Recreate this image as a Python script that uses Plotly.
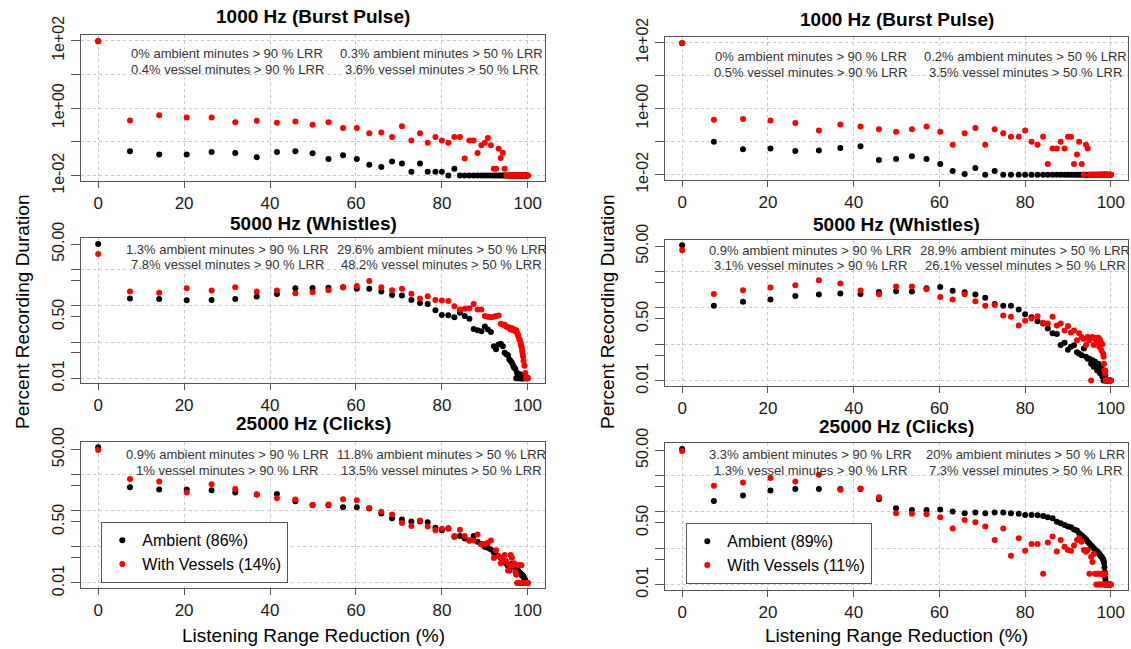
import plotly.graph_objects as go

# ---------------- data ----------------
LRR = [0, 7.4, 14.2, 20.6, 26.4, 31.9, 36.9, 41.6, 45.9, 49.9,
       53.6, 57.0, 60.2, 63.1, 65.9, 68.4, 70.7, 72.9, 74.9, 76.7,
       78.5, 80.0, 81.5, 82.9, 84.2, 85.3, 86.4, 87.4, 88.3, 89.2,
       90.0, 90.7, 91.4, 92.1, 92.6, 93.2, 93.7, 94.2, 94.6, 95.0,
       95.4, 95.7, 96.0, 96.3, 96.6, 96.8, 97.1, 97.3, 97.5, 97.7,
       97.8, 98.0, 98.2, 98.3, 98.4, 98.5, 98.6, 98.7, 98.8, 98.9,
       99.0, 99.2, 99.4, 99.6, 99.8, 100.0]

titles = ["1000 Hz (Burst Pulse)", "5000 Hz (Whistles)", "25000 Hz (Clicks)"]

# Left column
amb_bp_L = [96, 0.053, 0.042, 0.042, 0.050, 0.047, 0.035, 0.050, 0.053, 0.046,
            0.031, 0.040, 0.031, 0.021, 0.018, 0.026, 0.023, 0.013, 0.023, 0.013,
            0.013, 0.013, 0.01, 0.016, 0.01, 0.01, 0.01, 0.01, 0.01, 0.01,
            0.01, 0.01, 0.01, 0.01, 0.01, 0.01, 0.01, 0.01, 0.01, 0.01,
            0.01, 0.01, 0.01, 0.01, 0.01, 0.01, 0.01, 0.01, 0.01, 0.01,
            0.01, 0.01, 0.01, 0.01, 0.01, 0.01, 0.01, 0.01, 0.01, 0.01,
            0.01, 0.01, 0.01, 0.01, 0.01, 0.01]
ves_bp_L = [96, 0.43, 0.62, 0.53, 0.53, 0.38, 0.42, 0.37, 0.40, 0.32,
            0.38, 0.26, 0.26, 0.18, 0.19, 0.14, 0.29, 0.11, 0.18, 0.095,
            0.14, 0.11, 0.095, 0.14, 0.14, 0.032, 0.11, 0.11, 0.047, 0.079,
            0.095, 0.13, 0.079, 0.016, 0.016, 0.063, 0.033, 0.048, 0.016, 0.01,
            0.01, 0.01, 0.01, 0.01, 0.01, 0.01, 0.01, 0.01, 0.01, 0.01,
            0.01, 0.01, 0.01, 0.01, 0.01, 0.01, 0.01, 0.01, 0.01, 0.01,
            0.01, 0.01, 0.01, 0.01, 0.01, 0.01]
amb_wh_L = [51, 1.58, 1.55, 1.42, 1.45, 1.55, 1.79, 2.12, 3.03, 3.10,
            3.16, 3.23, 2.97, 2.97, 2.46, 1.99, 1.91, 1.45, 1.20, 1.12,
            0.75, 0.56, 0.55, 0.48, 0.64, 0.52, 0.44, 0.23, 0.21, 0.20,
            0.27, 0.22, 0.19, 0.077, 0.063, 0.085, 0.09, 0.077, 0.051, 0.046,
            0.043, 0.033, 0.030, 0.027, 0.022, 0.020, 0.018, 0.01, 0.014, 0.013,
            0.01, 0.01, 0.013, 0.01, 0.01, 0.01, 0.01, 0.01, 0.01, 0.01,
            0.01, 0.01, 0.01, 0.01, 0.01, 0.01]
ves_wh_L = [27, 2.46, 2.3, 3.03, 2.62, 3.23, 2.46, 2.62, 2.21, 2.35,
            2.7, 3.23, 3.51, 4.82, 3.23, 2.7, 2.97, 2.16, 1.58, 1.83,
            1.45, 1.39, 1.36, 0.97, 0.79, 0.83, 0.86, 1.12, 0.79, 0.79,
            0.52, 0.50, 0.48, 0.50, 0.52, 0.54, 0.32, 0.30, 0.30, 0.27,
            0.25, 0.25, 0.22, 0.24, 0.21, 0.22, 0.20, 0.21, 0.18, 0.16,
            0.146, 0.12, 0.11, 0.095, 0.085, 0.077, 0.068, 0.056, 0.047, 0.04,
            0.03, 0.022, 0.014, 0.01, 0.01, 0.01]
amb_cl_L = [58, 4.5, 3.9, 3.9, 3.73, 3.21, 2.83, 2.95, 1.85, 1.46,
            1.44, 1.26, 1.26, 1.16, 0.84, 0.62, 0.58, 0.51, 0.51, 0.48,
            0.34, 0.29, 0.33, 0.19, 0.20, 0.17, 0.15, 0.20, 0.14, 0.12,
            0.10, 0.095, 0.085, 0.07, 0.062, 0.055, 0.05, 0.042, 0.038, 0.034,
            0.03, 0.022, 0.03, 0.034, 0.03, 0.028, 0.026, 0.025, 0.023, 0.022,
            0.021, 0.02, 0.019, 0.018, 0.018, 0.017, 0.017, 0.016, 0.016, 0.015,
            0.015, 0.013, 0.012, 0.01, 0.01, 0.01]
ves_cl_L = [49, 7.7, 6.5, 3.21, 5.5, 4.06, 2.83, 2.24, 2.06, 1.46,
            1.49, 2.1, 1.97, 1.2, 0.95, 0.79, 0.46, 0.38, 0.54, 0.37,
            0.29, 0.32, 0.32, 0.20, 0.30, 0.20, 0.15, 0.15, 0.22, 0.116,
            0.12, 0.13, 0.15, 0.049, 0.081, 0.055, 0.035, 0.044, 0.06, 0.04,
            0.022, 0.031, 0.06, 0.05, 0.031, 0.035, 0.02, 0.017, 0.01, 0.031,
            0.01, 0.031, 0.01, 0.031, 0.01, 0.031, 0.01, 0.01, 0.01, 0.01,
            0.01, 0.01, 0.01, 0.01, 0.01, 0.01]

# Right column
amb_bp_R = [96, 0.10, 0.059, 0.062, 0.052, 0.054, 0.064, 0.073, 0.028, 0.030,
            0.036, 0.030, 0.021, 0.013, 0.0105, 0.016, 0.01, 0.013, 0.01, 0.01,
            0.01, 0.01, 0.01, 0.01, 0.01, 0.01, 0.01, 0.01, 0.01, 0.01,
            0.01, 0.01, 0.01, 0.01, 0.01, 0.01, 0.01, 0.01, 0.01, 0.01,
            0.01, 0.01, 0.01, 0.01, 0.01, 0.01, 0.01, 0.01, 0.01, 0.01,
            0.01, 0.01, 0.01, 0.01, 0.01, 0.01, 0.01, 0.01, 0.01, 0.01,
            0.01, 0.01, 0.01, 0.01, 0.01, 0.01]
ves_bp_R = [98, 0.46, 0.49, 0.44, 0.37, 0.22, 0.33, 0.29, 0.24, 0.20,
            0.24, 0.29, 0.20, 0.081, 0.18, 0.26, 0.081, 0.24, 0.18, 0.14,
            0.14, 0.22, 0.10, 0.081, 0.14, 0.021, 0.062, 0.062, 0.10, 0.062,
            0.14, 0.14, 0.021, 0.041, 0.10, 0.021, 0.01, 0.081, 0.062, 0.01,
            0.01, 0.01, 0.01, 0.01, 0.01, 0.01, 0.01, 0.01, 0.01, 0.01,
            0.01, 0.01, 0.01, 0.01, 0.01, 0.01, 0.01, 0.01, 0.01, 0.01,
            0.01, 0.01, 0.01, 0.01, 0.01, 0.01]
amb_wh_R = [53, 1.14, 1.47, 1.70, 2.14, 2.33, 2.49, 2.43, 2.76, 2.88,
            2.82, 3.48, 3.79, 2.95, 2.7, 2.33, 1.89, 1.29, 1.14, 1.14,
            0.9, 0.67, 0.55, 0.43, 0.37, 0.27, 0.20, 0.19, 0.096, 0.11,
            0.07, 0.085, 0.094, 0.06, 0.055, 0.05, 0.076, 0.045, 0.04, 0.04,
            0.029, 0.036, 0.024, 0.033, 0.028, 0.019, 0.029, 0.022, 0.016, 0.02,
            0.024, 0.013, 0.014, 0.01, 0.012, 0.014, 0.014, 0.014, 0.01, 0.01,
            0.01, 0.01, 0.01, 0.01, 0.01, 0.01]
ves_wh_R = [38.8, 2.43, 3.07, 3.64, 4.22, 5.79, 4.69, 3.0, 2.38, 3.87,
            3.87, 3.25, 2.01, 1.70, 2.38, 1.53, 1.14, 1.2, 0.62, 0.57,
            0.33, 0.44, 0.51, 0.59, 0.39, 0.37, 0.57, 0.33, 0.37, 0.24,
            0.32, 0.21, 0.24, 0.128, 0.2, 0.158, 0.14, 0.096, 0.158, 0.128,
            0.01, 0.158, 0.096, 0.14, 0.15, 0.11, 0.15, 0.085, 0.13, 0.11,
            0.068, 0.1, 0.055, 0.045, 0.029, 0.019, 0.016, 0.019, 0.01, 0.01,
            0.01, 0.01, 0.01, 0.01, 0.01, 0.01]
amb_cl_R = [54, 2.02, 2.84, 3.91, 4.26, 4.26, 4.26, 4.26, 2.25, 1.27,
            1.14, 1.14, 1.16, 1.03, 0.92, 0.96, 0.92, 0.96, 0.96, 0.92,
            0.89, 0.83, 0.83, 0.81, 0.78, 0.72, 0.67, 0.54, 0.49, 0.44,
            0.40, 0.38, 0.33, 0.31, 0.26, 0.23, 0.20, 0.176, 0.15, 0.136,
            0.12, 0.11, 0.10, 0.093, 0.085, 0.081, 0.075, 0.069, 0.064, 0.06,
            0.058, 0.055, 0.05, 0.046, 0.04, 0.03, 0.022, 0.015, 0.012, 0.01,
            0.01, 0.01, 0.01, 0.01, 0.01, 0.01]
ves_cl_R = [48, 5.26, 6.5, 8.6, 6.9, 10.6, 4.07, 4.44, 2.56, 0.92,
            0.89, 0.87, 0.72, 0.35, 0.6, 0.52, 0.40, 0.17, 0.35, 0.062,
            0.19, 0.085, 0.13, 0.13, 0.02, 0.145, 0.21, 0.082, 0.17, 0.11,
            0.089, 0.085, 0.12, 0.17, 0.19, 0.15, 0.089, 0.08, 0.089, 0.02,
            0.058, 0.042, 0.07, 0.02, 0.01, 0.02, 0.01, 0.02, 0.01, 0.02,
            0.01, 0.02, 0.01, 0.02, 0.01, 0.02, 0.01, 0.02, 0.01, 0.01,
            0.01, 0.01, 0.01, 0.01, 0.01, 0.01]

stats_L = [
    ["0% ambient minutes > 90 % LRR", "0.4% vessel minutes > 90 % LRR",
     "0.3% ambient minutes > 50 % LRR", "3.6% vessel minutes > 50 % LRR"],
    ["1.3% ambient minutes > 90 % LRR", "7.8% vessel minutes > 90 % LRR",
     "29.6% ambient minutes > 50 % LRR", "48.2% vessel minutes > 50 % LRR"],
    ["0.9% ambient minutes > 90 % LRR", "1% vessel minutes > 90 % LRR",
     "11.8% ambient minutes > 50 % LRR", "13.5% vessel minutes > 50 % LRR"],
]
stats_R = [
    ["0% ambient minutes > 90 % LRR", "0.5% vessel minutes > 90 % LRR",
     "0.2% ambient minutes > 50 % LRR", "3.5% vessel minutes > 50 % LRR"],
    ["0.9% ambient minutes > 90 % LRR", "3.1% vessel minutes > 90 % LRR",
     "28.9% ambient minutes > 50 % LRR", "26.1% vessel minutes > 50 % LRR"],
    ["3.3% ambient minutes > 90 % LRR", "1.3% vessel minutes > 90 % LRR",
     "20% ambient minutes > 50 % LRR", "7.3% vessel minutes > 50 % LRR"],
]
legend_L = ["Ambient (86%)", "With Vessels (14%)"]
legend_R = ["Ambient (89%)", "With Vessels (11%)"]

x_ticks = [0, 20, 40, 60, 80, 100]
y_ticks_top = [0.01, 0.1, 1, 10, 100]
y_text_top = ["1e-02", "", "1e+00", "", "1e+02"]
y_ticks_low = [0.01, 0.05, 0.1, 0.5, 1, 5, 10, 50]
y_text_low = ["0.01", "", "", "0.50", "", "", "", "50.00"]
y_grid_low = [0.01, 0.1, 1, 10]

# ---------------- layout geometry (pixels) ----------------
W, H = 1131, 649
FONT = "Liberation Sans, Arial, Helvetica, sans-serif"
col_px = {"L": (81, 545), "R": (665, 1128)}
row_px = {"L": [(35, 181), (238, 383), (442, 588)],
          "R": [(37, 180), (240, 386), (443, 590)]}
y_ranges = {"L": [[-2.16, 2.17], [-2.13, 1.87], [-2.14, 1.91]],
            "R": [[-2.16, 2.17], [-2.15, 1.87], [-2.15, 1.9]]}
stat_y = {"L": [(0.87, 0.767), (0.922, 0.814), (0.916, 0.808)],
          "R": [(0.862, 0.755), (0.925, 0.822), (0.925, 0.816)]}
title_y = {"L": [17, 223, 424], "R": [20, 224, 426]}

series = {"L": [(amb_bp_L, ves_bp_L), (amb_wh_L, ves_wh_L), (amb_cl_L, ves_cl_L)],
          "R": [(amb_bp_R, ves_bp_R), (amb_wh_R, ves_wh_R), (amb_cl_R, ves_cl_R)]}
stats = {"L": stats_L, "R": stats_R}
legends = {"L": legend_L, "R": legend_R}

AX = "#555555"
GRID = "#c9c9c9"

fig = go.Figure()
layout = {}
annotations = []
idx = 0
for side in ["L", "R"]:
    x0, x1 = col_px[side]
    for r in range(3):
        idx += 1
        xa = "x" if idx == 1 else f"x{idx}"
        ya = "y" if idx == 1 else f"y{idx}"
        xkey = "xaxis" if idx == 1 else f"xaxis{idx}"
        ykey = "yaxis" if idx == 1 else f"yaxis{idx}"
        top, bot = row_px[side][r]
        layout[xkey] = dict(
            domain=[x0 / W, x1 / W], anchor=ya, range=[-4, 104],
            automargin=False,
            tickmode="array", tickvals=x_ticks, ticks="outside", ticklen=6,
            tickcolor=AX, tickwidth=1.2, showline=True, mirror=True,
            linecolor=AX, linewidth=1.3, showgrid=True, gridcolor=GRID,
            griddash="dot", gridwidth=1, zeroline=False,
            tickfont=dict(family=FONT, size=17, color="#1a1a1a"))
        yd = dict(
            domain=[1 - bot / H, 1 - top / H], anchor=xa, type="log",
            automargin=False,
            range=y_ranges[side][r], tickmode="array", ticks="outside",
            ticklen=9, tickcolor=AX, tickwidth=1.2, tickangle=-90,
            showline=True, mirror=True, linecolor=AX, linewidth=1.3,
            zeroline=False,
            tickfont=dict(family=FONT, size=16, color="#1a1a1a"))
        if r == 0:
            yd.update(tickvals=y_ticks_top, ticktext=y_text_top, showgrid=True,
                      gridcolor=GRID, griddash="dot", gridwidth=1)
        else:
            yd.update(tickvals=y_ticks_low, ticktext=y_text_low, showgrid=False,
                      minor=dict(tickmode="array", tickvals=y_grid_low, ticks="",
                                 showgrid=True, gridcolor=GRID, griddash="dot",
                                 gridwidth=1))
        layout[ykey] = yd

        amb, ves = series[side][r]
        leg = "legend" if side == "L" else "legend2"
        fig.add_trace(go.Scatter(
            x=LRR, y=amb, mode="markers", xaxis=xa, yaxis=ya,
            marker=dict(size=6, color="black"), name=legends[side][0],
            showlegend=(r == 2), legend=leg))
        fig.add_trace(go.Scatter(
            x=LRR, y=ves, mode="markers", xaxis=xa, yaxis=ya,
            marker=dict(size=6, color="#ff0000"), name=legends[side][1],
            showlegend=(r == 2), legend=leg))

        # panel title
        annotations.append(dict(
            text=f"<b>{titles[r]}</b>", xref="paper", yref="paper",
            x=(x0 + x1) / 2 / W, y=1 - title_y[side][r] / H,
            xanchor="center", yanchor="middle", showarrow=False,
            font=dict(family=FONT, size=19, color="black")))
        # stats text
        s = stats[side][r]
        ys1, ys2 = stat_y[side][r]
        for txt, xx, yy in [(s[0], 30, ys1), (s[1], 30, ys2),
                            (s[2], 80, ys1), (s[3], 80, ys2)]:
            annotations.append(dict(
                text=txt, xref=xa, yref=f"{ya} domain", x=xx, y=yy,
                xanchor="center", yanchor="middle", showarrow=False,
                font=dict(family=FONT, size=13, color="#333333")))

    # axis titles
    annotations.append(dict(
        text="Percent Recording Duration", xref="paper", yref="paper",
        x=(22 if side == "L" else 607) / W, y=1 - 312 / H, textangle=-90,
        xanchor="center", yanchor="middle", showarrow=False,
        font=dict(family=FONT, size=19, color="black")))
    annotations.append(dict(
        text="Listening Range Reduction (%)", xref="paper", yref="paper",
        x=(x0 + x1) / 2 / W, y=1 - 635 / H,
        xanchor="center", yanchor="middle", showarrow=False,
        font=dict(family=FONT, size=19, color="black")))

leg_common = dict(xanchor="left", yanchor="top", bordercolor=AX, borderwidth=1.3,
                  bgcolor="white", font=dict(family=FONT, size=16, color="black"),
                  tracegroupgap=0, itemwidth=30)
fig.update_layout(
    **layout,
    template="none",
    annotations=annotations,
    legend=dict(x=101 / W, y=1 - 522 / H, **leg_common),
    legend2=dict(x=686 / W, y=1 - 523 / H, **leg_common),
    width=W, height=H, margin=dict(l=0, r=0, t=0, b=0, pad=0, autoexpand=False),
    paper_bgcolor="white", plot_bgcolor="white",
    font=dict(family=FONT),
)
fig.write_html("out.html",
               config={"displayModeBar": False},
               post_script="document.body.style.margin='0';document.body.style.overflow='hidden';")
